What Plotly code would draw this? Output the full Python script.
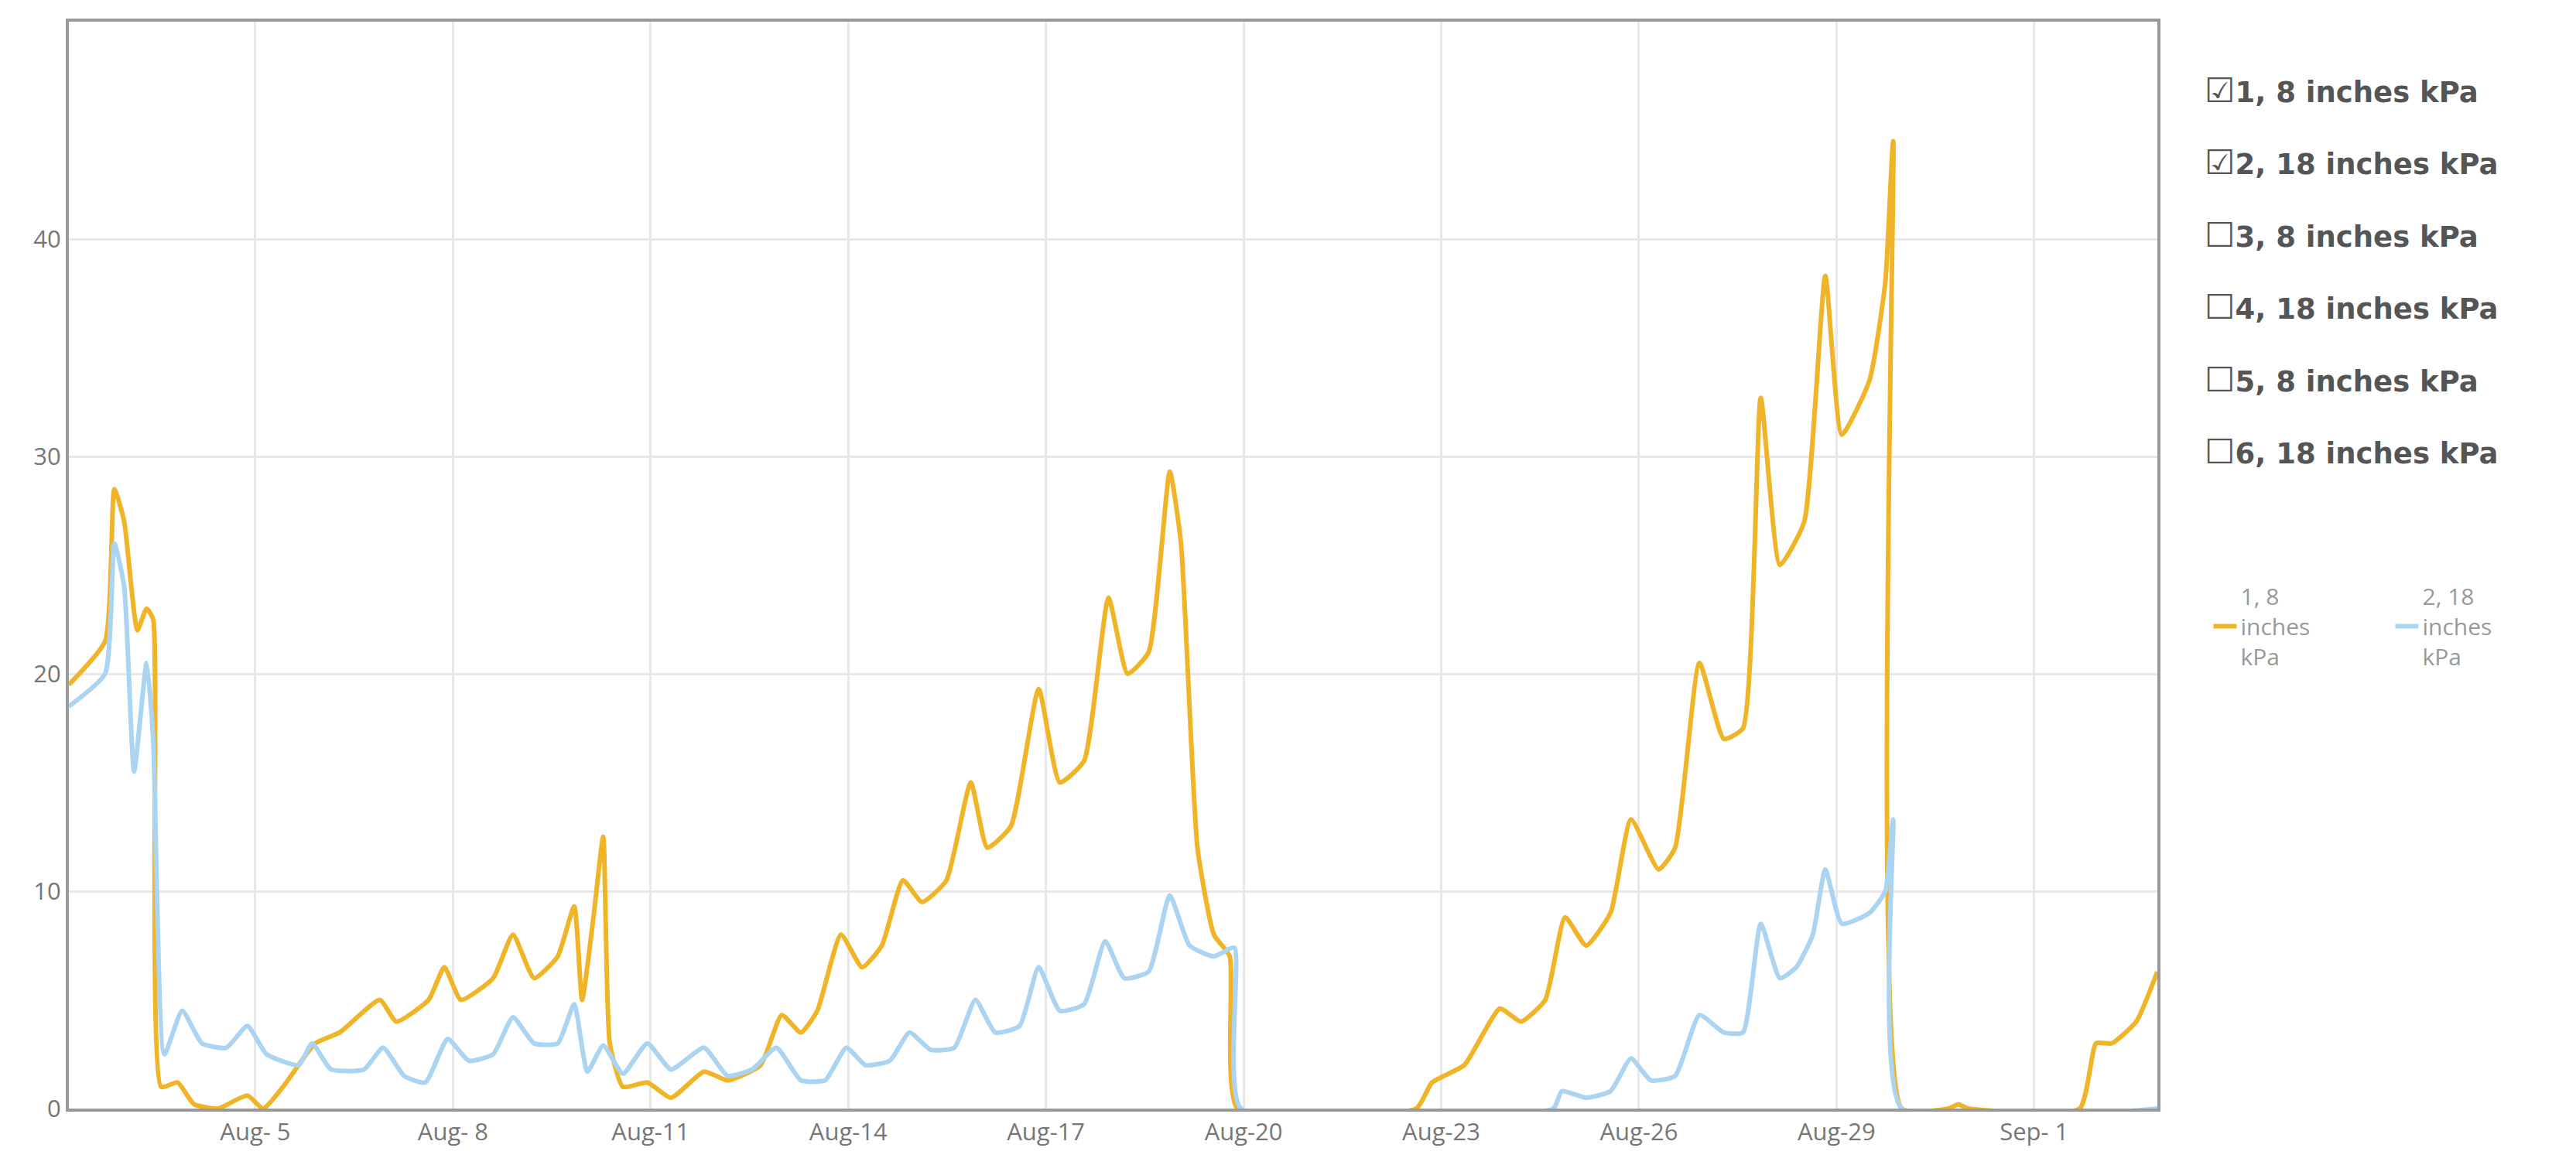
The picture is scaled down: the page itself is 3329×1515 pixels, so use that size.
import plotly.graph_objects as go
import pandas as pd

# x values: day-of-August (fractional), e.g. 5.0 = Aug 5 00:00
y1_days = [2.17,2.72,2.86,3.01,3.21,3.35,3.45,3.57,3.82,4.07,4.43,4.88,5.12,5.42,5.91,6.28,6.89,7.14,7.63,7.87,
           8.12,8.61,8.91,9.23,9.59,9.84,9.96,10.14,10.28,10.38,10.58,10.95,11.31,11.81,12.17,12.67,12.99,13.28,13.53,
           13.89,14.21,14.51,14.83,15.12,15.49,15.86,16.11,16.47,16.89,17.21,17.58,17.95,18.24,18.56,18.88,19.05,19.30,
           19.55,19.79,19.91,22.62,22.86,23.35,23.89,24.21,24.58,24.88,25.20,25.57,25.88,26.30,26.55,26.92,27.29,27.58,
           27.85,28.14,28.51,28.83,29.08,29.50,29.74,29.86,29.99,30.70,30.85,31.00,32.69,32.94,33.18,33.55,33.87]
y1_vals = [19.5,21.5,28.5,27,22,23,22.5,1,1.2,0.2,0,0.6,0,1,3,3.5,5,4,5,6.5,
           5,6,8,6,7,9.3,5,9,12.5,3,1,1.2,0.5,1.7,1.3,2,4.3,3.5,4.5,
           8,6.5,7.5,10.5,9.5,10.5,15,12,13,19.3,15,16,23.5,20,21,29.3,26,12,
           8,7,0,0,1.2,2,4.6,4,5,8.8,7.5,9,13.3,11,12,20.5,17,17.5,
           32.7,25,27,38.3,31,33.5,38,44.5,0,0,0.2,0,0,3,3,4,6.3]

y2_days = [2.17,2.72,2.86,3.01,3.16,3.35,3.45,3.62,3.89,4.19,4.56,4.88,5.17,5.66,5.86,6.15,6.65,6.94,7.26,7.58,
           7.92,8.24,8.61,8.91,9.23,9.59,9.84,10.04,10.28,10.58,10.95,11.31,11.81,12.17,12.54,12.91,13.28,13.65,13.97,
           14.26,14.63,14.93,15.25,15.61,15.93,16.23,16.60,16.89,17.21,17.58,17.90,18.19,18.56,18.88,19.18,19.55,19.86,
           19.96,24.70,24.83,25.20,25.57,25.88,26.18,26.55,26.92,27.29,27.58,27.85,28.14,28.39,28.64,28.83,29.08,29.50,
           29.74,29.86,29.99,33.87]
y2_vals = [18.5,20,26,24,15.5,20.5,17,2.5,4.5,3,2.8,3.8,2.5,2,3,1.8,1.8,2.8,1.5,1.2,
           3.2,2.2,2.5,4.2,3,3,4.8,1.7,2.9,1.6,3,1.8,2.8,1.5,1.8,2.8,1.3,1.3,2.8,
           2,2.2,3.5,2.7,2.8,5,3.5,3.8,6.5,4.5,4.8,7.7,6,6.3,9.8,7.5,7,7.4,
           0,0,0.8,0.5,0.8,2.3,1.3,1.5,4.3,3.5,3.5,8.5,6,6.5,8,11,8.5,9,
           10,13.3,0,0]

series_names = ["1, 8 inches kPa", "2, 18 inches kPa", "3, 8 inches kPa",
                "4, 18 inches kPa", "5, 8 inches kPa", "6, 18 inches kPa"]
checked = [True, True, False, False, False, False]

base = pd.Timestamp("2023-08-01")
to_dt = lambda ds: [base + pd.Timedelta(days=d - 1) for d in ds]

fig = go.Figure()
fig.add_trace(go.Scatter(x=to_dt(y1_days), y=y1_vals, mode="lines", name="1, 8<br>inches<br>kPa",
                         line=dict(color="#f0b429", width=6, shape="spline", smoothing=0.5)))
fig.add_trace(go.Scatter(x=to_dt(y2_days), y=y2_vals, mode="lines", name="2, 18<br>inches<br>kPa",
                         line=dict(color="#abd4f2", width=6, shape="spline", smoothing=0.5)))

for i, (n, c) in enumerate(zip(series_names, checked)):
    fig.add_annotation(xref="paper", yref="paper", x=1.022, y=1 - (0.063 + i * 0.0665),
                       xanchor="left", yanchor="middle", showarrow=False,
                       text="<span style='font-size:44px'>" + ("☑" if c else "☐") + "</span><b>" + n + "</b>",
                       font=dict(family="DejaVu Sans", size=37, color="#555"))

fig.update_layout(
    width=3329, height=1515,
    margin=dict(l=81, r=513, t=20, b=90),
    plot_bgcolor="white", paper_bgcolor="white",
    font=dict(family="Open Sans", size=31, color="#777"),
    legend=dict(orientation="h", x=1.025, y=0.49, xanchor="left", yanchor="top",
                font=dict(size=30, color="#999"), entrywidth=190),
    xaxis=dict(range=[to_dt([2.17])[0], to_dt([33.87])[0]], tickformat="%b-%e",
               dtick=3 * 86400000, tick0="2023-08-02",
               showgrid=True, gridcolor="#e8e8e8", gridwidth=3,
               showline=True, linecolor="#999", linewidth=4, mirror=True, ticks="", zeroline=False),
    yaxis=dict(range=[0, 50], tickvals=[0, 10, 20, 30, 40, 50], showgrid=True, gridcolor="#e8e8e8", gridwidth=3,
               showline=True, linecolor="#999", linewidth=4, mirror=True, ticks="", zeroline=False,
               automargin=False),
)
fig.write_html("out.html")
